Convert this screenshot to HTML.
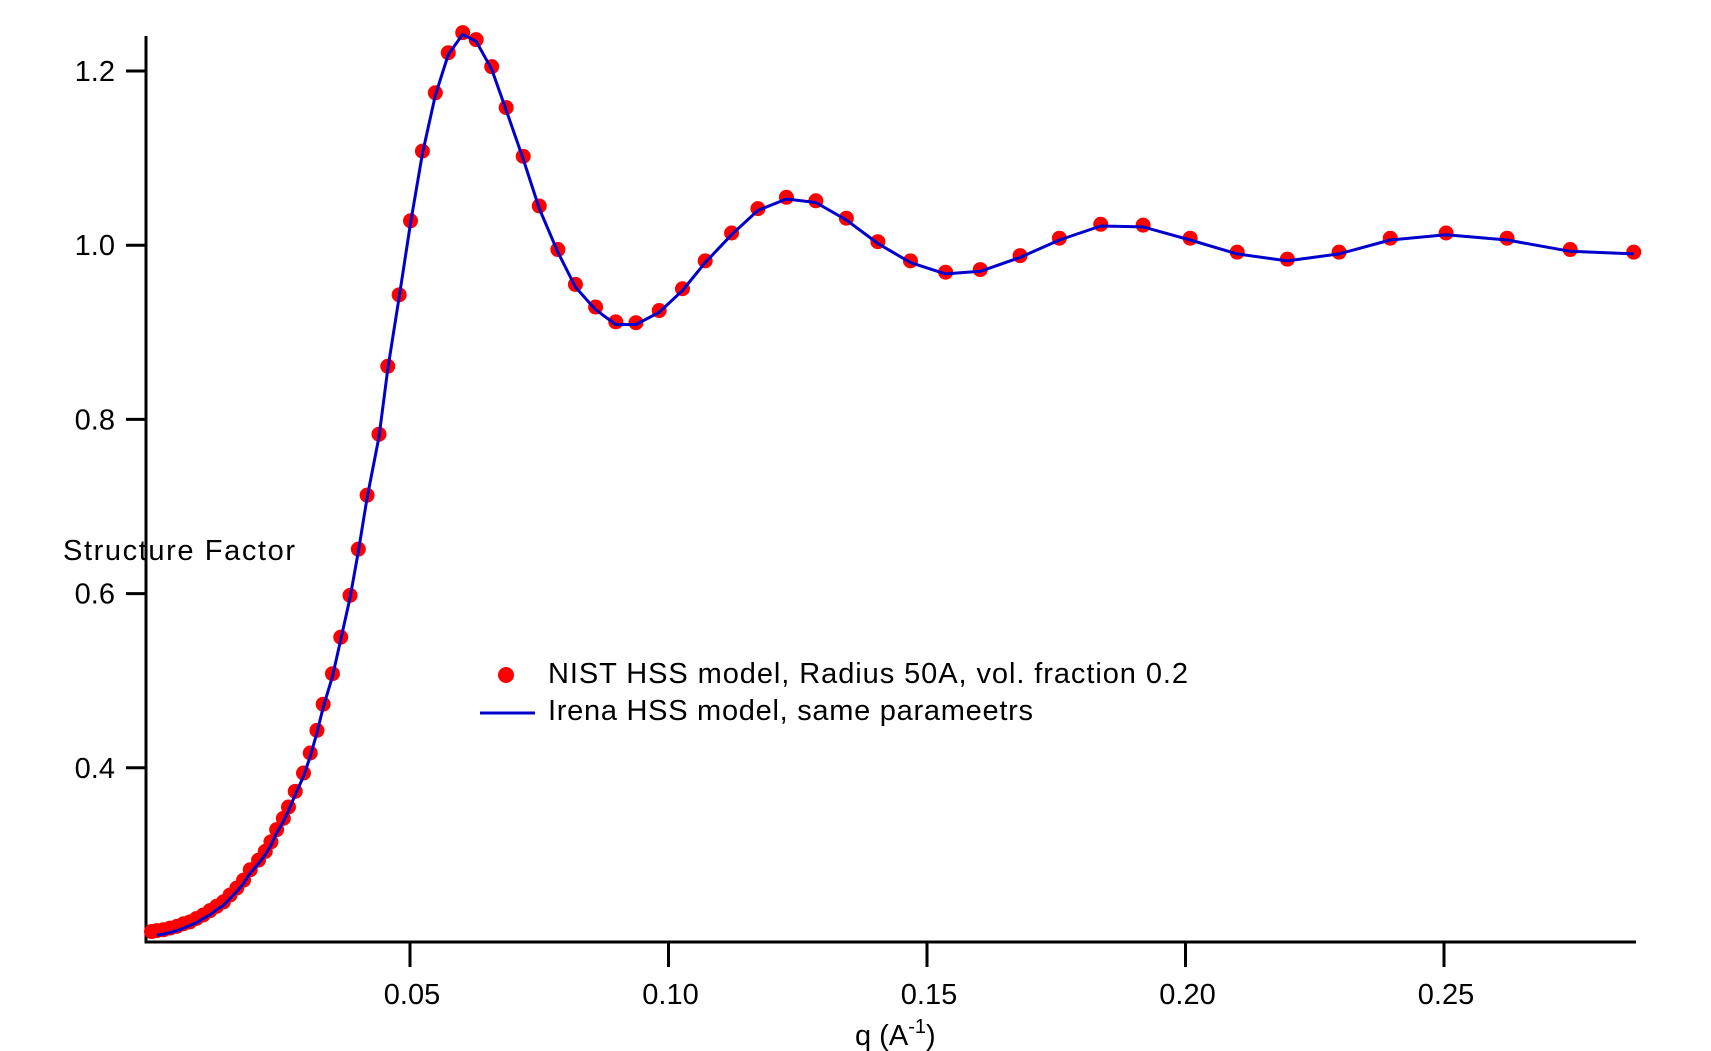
<!DOCTYPE html>
<html><head><meta charset="utf-8"><style>
html,body{margin:0;padding:0;background:#fff;}
svg{display:block;}
text{font-family:"Liberation Sans",sans-serif;fill:#000;}
</style></head><body>
<svg id="chart" width="1711" height="1051" viewBox="0 0 1711 1051" xmlns="http://www.w3.org/2000/svg">
<g id="axes"></g>
<g id="marks"></g>
<text x="63" y="560" font-size="29" textLength="232">Structure Factor</text>
<text x="855" y="1045" font-size="29">q (A<tspan dy="-12" font-size="20">-1</tspan><tspan dy="12">)</tspan></text>
<g>
<circle cx="506" cy="675" r="8" fill="#ff0000"></circle>
<text x="548" y="683" font-size="29" textLength="640">NIST HSS model, Radius 50A, vol. fraction 0.2</text>
<line x1="480" y1="713" x2="535" y2="713" stroke="#0000cc" stroke-width="3"></line>
<text x="548" y="720" font-size="29" textLength="485">Irena HSS model, same parameetrs</text>
</g>
</svg>
<script>
const qValues = [0.0000,0.0010,0.0023,0.0036,0.0049,0.0062,0.0074,0.0087,0.0100,0.0113,0.0126,0.0139,0.0152,0.0165,0.0178,0.0191,0.0207,0.0220,0.0231,0.0242,0.0255,0.0265,0.0278,0.0294,0.0307,0.0320,0.0332,0.0350,0.0366,0.0384,0.0400,0.0417,0.0440,0.0457,0.0479,0.0501,0.0524,0.0549,0.0574,0.0602,0.0628,0.0658,0.0686,0.0719,0.0750,0.0786,0.0820,0.0859,0.0898,0.0937,0.0982,0.1027,0.1071,0.1122,0.1173,0.1228,0.1285,0.1344,0.1405,0.1468,0.1536,0.1603,0.1680,0.1756,0.1836,0.1918,0.2009,0.2100,0.2197,0.2297,0.2396,0.2504,0.2622,0.2744,0.2867];
const nistValues = [0.212,0.213,0.214,0.216,0.218,0.221,0.223,0.227,0.231,0.236,0.241,0.246,0.254,0.262,0.271,0.283,0.294,0.304,0.315,0.329,0.342,0.355,0.373,0.394,0.417,0.443,0.473,0.508,0.550,0.598,0.651,0.713,0.783,0.861,0.943,1.028,1.108,1.175,1.221,1.244,1.236,1.205,1.158,1.102,1.045,0.995,0.955,0.929,0.912,0.911,0.925,0.950,0.982,1.014,1.042,1.055,1.051,1.031,1.004,0.982,0.969,0.972,0.988,1.008,1.024,1.023,1.008,0.992,0.984,0.992,1.008,1.014,1.008,0.995,0.992];
const irenaValues = [0.207,0.208,0.209,0.211,0.213,0.216,0.219,0.222,0.227,0.231,0.237,0.242,0.250,0.258,0.267,0.279,0.290,0.300,0.311,0.325,0.338,0.351,0.369,0.390,0.413,0.440,0.469,0.505,0.547,0.595,0.648,0.710,0.780,0.858,0.940,1.025,1.105,1.172,1.219,1.242,1.234,1.202,1.155,1.099,1.042,0.992,0.952,0.926,0.909,0.909,0.923,0.948,0.980,1.012,1.040,1.053,1.049,1.029,1.002,0.980,0.967,0.970,0.986,1.006,1.022,1.021,1.006,0.990,0.982,0.990,1.006,1.012,1.006,0.993,0.990];
const xTicks = [0.05,0.10,0.15,0.20,0.25];
const xTickLabels = ["0.05","0.10","0.15","0.20","0.25"];
const yTicks = [0.4,0.6,0.8,1.0,1.2];
const yTickLabels = ["0.4","0.6","0.8","1.0","1.2"];

const NS = "http://www.w3.org/2000/svg";
function xScale(q){ return 151.5 + q*5170; }
function yScale(v){ return 71 + (1.2 - v)*871; }
function mk(tag, attrs, parent){
  const e = document.createElementNS(NS, tag);
  for (const k in attrs) e.setAttribute(k, attrs[k]);
  parent.appendChild(e);
  return e;
}
const axes = document.getElementById('axes');
const marks = document.getElementById('marks');
let el = mk('line',{x1:146,y1:36,x2:146,y2:943,stroke:'#000','stroke-width':3},axes);


el = mk('line',{x1:144.5,y1:942,x2:1636,y2:942,stroke:'#000','stroke-width':3},axes);


xTicks.forEach((t,i)=>{
  const x = xScale(t);
  const tk = mk('line',{x1:x,y1:942,x2:x,y2:967,stroke:'#000','stroke-width':3},axes);
  
  
  const lb = mk('text',{x:x+2,y:1004,'font-size':29,'text-anchor':'middle'},axes);
  lb.textContent = xTickLabels[i];
  
  
});
yTicks.forEach((t,i)=>{
  const y = yScale(t);
  const tk = mk('line',{x1:126,y1:y,x2:146,y2:y,stroke:'#000','stroke-width':3},axes);
  
  
  const lb = mk('text',{x:115,y:y+10,'font-size':29,'text-anchor':'end'},axes);
  lb.textContent = yTickLabels[i];
  
  
});
qValues.forEach((q,i)=>{
  const c = mk('circle',{cx:xScale(q),cy:yScale(nistValues[i]),r:7.5,fill:'#ff0000'},marks);
  
  
});
const pts = qValues.map((q,i)=>xScale(q).toFixed(1)+','+yScale(irenaValues[i]).toFixed(1)).slice(1).join(' ');
const pl = mk('polyline',{points:pts,fill:'none',stroke:'#0000cc','stroke-width':3,'stroke-linejoin':'round'},marks);


</script>
</body></html>
